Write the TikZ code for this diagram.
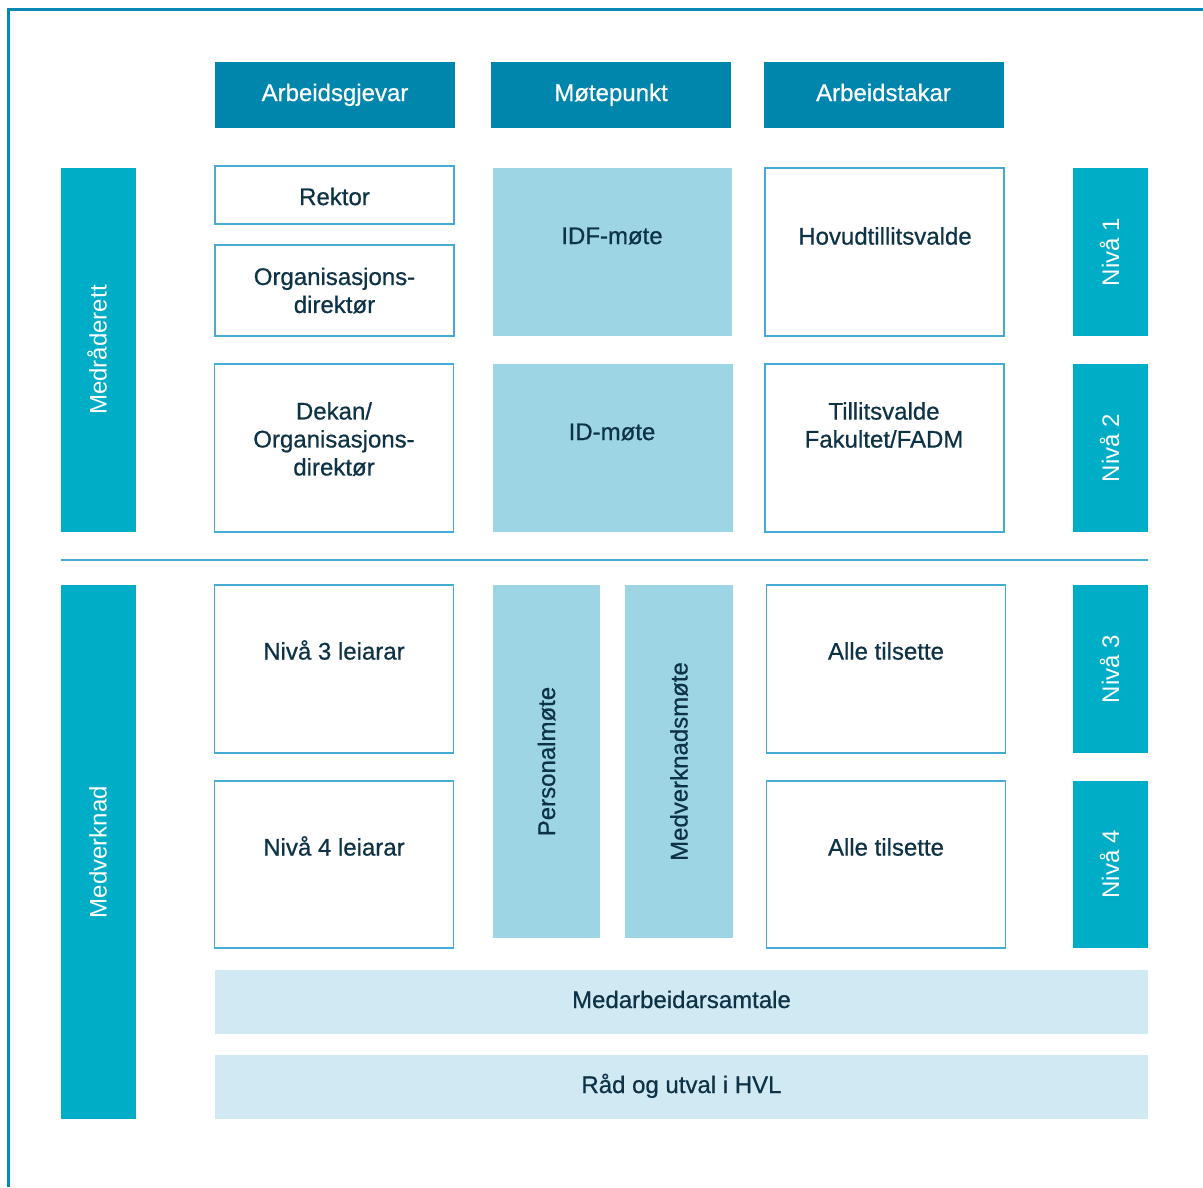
\documentclass[tikz,border=0pt]{standalone}
\usepackage{fontspec}
\setmainfont{Liberation Sans}[BoldFont=Liberation Sans, BoldFeatures={FakeBold=0.6}]
\definecolor{hvlDark}{HTML}{0085AD}
\definecolor{hvlTeal}{HTML}{00ADC6}
\definecolor{hvlLight}{HTML}{9DD5E5}
\definecolor{hvlPale}{HTML}{D1E9F2}
\definecolor{hvlLine}{HTML}{45AAD4}
\definecolor{hvlFrame}{HTML}{0A88B4}
\definecolor{hvlText}{HTML}{0D3246}

\begin{document}
\begin{tikzpicture}[x=1pt, y=-1pt,
  every node/.style = {align=center, font=\fontsize{24}{28}\selectfont\bfseries, inner sep=0pt},
  oneline/.style = {text height=17pt, text depth=5pt},
  upright/.style = {rotate=90, text height=19pt, text depth=2pt},
  hdr/.style = {oneline, fill=hvlDark, text=white, minimum width=240pt, minimum height=66pt},
  side/.style = {upright, fill=hvlTeal, text=white, minimum height=75pt,
    font=\fontsize{24}{28}\selectfont},
  wbox/.style = {draw=hvlLine, line width=1.3pt, fill=white, text=hvlText, minimum width=239pt},
  lbox/.style = {fill=hvlLight, text=hvlText},
  band/.style = {oneline, fill=hvlPale, text=hvlText, minimum width=933pt, minimum height=64pt},
  lbl/.style = {text=hvlText}]

\useasboundingbox (0,0) rectangle (1203,1187);
\draw[hvlFrame, line width=2.5pt] (1203,9.5) -- (8.5,9.5) -- (8.5,1187);

\node[hdr] (gjevar) at (335,95) {Arbeidsgjevar};
\node[hdr] (motepunkt) at (611,95) {Møtepunkt};
\node[hdr] (takar) at (883.5,95) {Arbeidstakar};

\node[side, minimum width=364pt] (medraad) at (98,350) {Medråderett};
\node[side, minimum width=534pt] (medverk) at (98,852) {Medverknad};
\node[side, minimum width=168pt] (niva1) at (1110.5,252) {Nivå 1};
\node[side, minimum width=168pt] (niva2) at (1110.5,448) {Nivå 2};
\node[side, minimum width=168pt] (niva3) at (1110.5,669) {Nivå 3};
\node[side, minimum width=167pt] (niva4) at (1110.5,864.5) {Nivå 4};

\node[wbox, minimum height=58pt] (rektor) at (334.5,195) {};
\node[lbl] (rektorT) at (334.5,196.5) {Rektor};
\node[wbox, minimum height=91pt] (orgdir) at (334.5,290.5) {Organisasjons-\\direktør};
\node[wbox, minimum height=168pt] (dekan) at (334,448) {};
\node[lbl] (dekanT) at (334,439) {Dekan/\\Organisasjons-\\direktør};

\node[lbox, minimum width=239pt, minimum height=168pt] (idf) at (612.5,252) {};
\node[lbl] (idfT) at (612,236) {IDF-møte};
\node[lbox, minimum width=240pt, minimum height=168pt] (id) at (613,448) {};
\node[lbl] (idT) at (612,432) {ID-møte};

\node[wbox, minimum height=168pt] (hovud) at (884.5,252) {};
\node[lbl] (hovudT) at (885,236) {Hovudtillitsvalde};
\node[wbox, minimum height=168pt] (tillit) at (884.5,448) {};
\node[lbl] (tillitT) at (884,425) {Tillitsvalde\\Fakultet/FADM};

\coordinate (sepL) at (61,560);
\coordinate (sepR) at (1148,560);
\draw[hvlLine, line width=1.3pt] (sepL) -- (sepR);

\node[wbox, minimum height=168pt] (leiar3) at (334,669) {};
\node[lbl] (leiar3T) at (334,650) {Nivå 3 leiarar};
\node[wbox, minimum height=167pt] (leiar4) at (334,864.5) {};
\node[lbl] (leiar4T) at (334,846) {Nivå 4 leiarar};

\node[lbox, upright, minimum width=353pt, minimum height=107pt] (personal) at (546.5,761.5) {Personalmøte};
\node[lbox, upright, minimum width=353pt, minimum height=108pt] (medvmote) at (679,761.5) {Medverknadsmøte};

\node[wbox, minimum height=168pt] (alle3) at (886,669) {};
\node[lbl] (alle3T) at (886,651) {Alle tilsette};
\node[wbox, minimum height=167pt] (alle4) at (886,864.5) {};
\node[lbl] (alle4T) at (886,847) {Alle tilsette};

\node[band] (samtale) at (681.5,1002) {Medarbeidarsamtale};
\node[band] (raad) at (681.5,1087) {Råd og utval i HVL};
\end{tikzpicture}
\end{document}
